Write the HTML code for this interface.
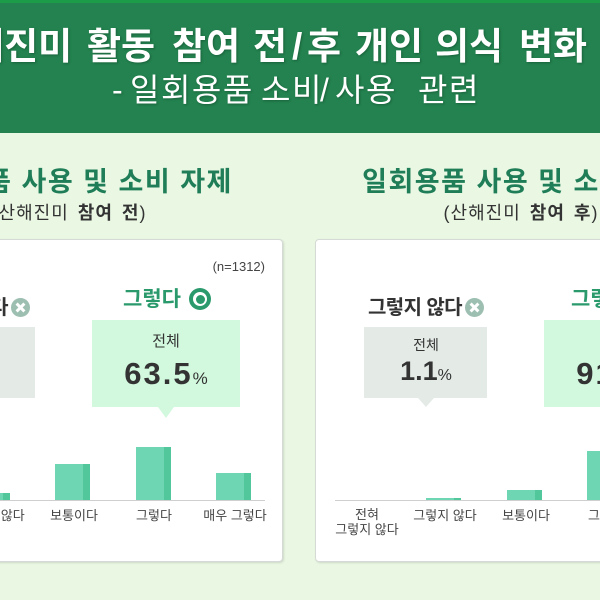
<!DOCTYPE html>
<html><head><meta charset="utf-8">
<style>
*{margin:0;padding:0;box-sizing:border-box}
html,body{width:600px;height:600px;overflow:hidden}
body{position:relative;background:#e9f7e3;font-family:"Liberation Sans","Noto Sans CJK KR",sans-serif;color:#333}
.hdr{position:absolute;left:0;top:0;width:600px;height:133px;background:#23824f}
.strip{position:absolute;left:0;top:0;width:600px;height:3px;background:#1c9b48}
.t1,.t2{position:absolute;color:#fff;white-space:nowrap;text-shadow:1px 1px 2px rgba(0,0,0,0.25)}
.t1{font-size:37px;font-weight:700;line-height:37px;top:28px}
.t2{font-size:32px;font-weight:400;line-height:32px;top:74px;letter-spacing:1.5px}
.h{position:absolute;width:500px;text-align:center;white-space:nowrap}
.h1{font-size:27px;font-weight:700;color:#1f7d57;line-height:27px;top:169px;letter-spacing:1.5px;word-spacing:0}
.h2{font-size:18px;color:#333;line-height:18px;top:204px;word-spacing:3px;letter-spacing:1px}
.card{position:absolute;top:239px;width:420px;height:323px;background:#fff;border:1px solid #d6dad6;border-radius:4px;box-shadow:1px 1px 2px rgba(0,0,0,0.12)}
.card div{position:absolute;white-space:nowrap}
.n{right:17px;top:20px;font-size:13px;line-height:13px;color:#444}
.gl{left:52px;top:58px;font-size:20px;font-weight:700;line-height:20px;letter-spacing:-0.6px;color:#333}
.gi{left:149px;top:58px;width:19px;height:19px;border-radius:50%;background:#9dbfb1}
.gi i,.gi b{position:absolute;left:4px;top:8px;width:11px;height:3px;background:#fff;transform:rotate(45deg)}
.gi b{transform:rotate(-45deg)}
.gb{left:48px;top:87px;width:123px;height:71px;background:#e4ebe7}
.gt{left:102px;top:158px;width:0;height:0;border-left:8px solid transparent;border-right:8px solid transparent;border-top:9px solid #e4ebe7}
.c{text-align:center;width:160px}
.gw{left:30px;top:98px;font-size:14px;line-height:14px}
.gv{left:30px;top:118px;font-size:27px;font-weight:700;line-height:27px}
.gv span,.vv span{font-size:16px;font-weight:400;letter-spacing:0}
.grl{top:49px;font-size:21px;font-weight:700;line-height:21px;color:#2a9a6d}
.gri{left:325px;top:48px;width:22px;height:22px;border-radius:50%;background:#2a9a6d}
.gri i{position:absolute;left:4px;top:4px;width:14px;height:14px;border-radius:50%;background:#fff}
.gri b{position:absolute;left:6.5px;top:6.5px;width:9px;height:9px;border-radius:50%;background:#2a9a6d}
.vb{left:228px;top:80px;width:148px;height:87px;background:#d2f8de}
.vt{left:294px;top:167px;width:0;height:0;border-left:8px solid transparent;border-right:8px solid transparent;border-top:11px solid #d2f8de}
.vw{left:222px;top:94px;font-size:15px;line-height:15px}
.vv{left:222px;top:118px;font-size:31px;font-weight:700;line-height:31px;letter-spacing:2px}
.vv span{font-size:17px}
.ax{left:19px;top:260px;width:382px;height:1px;background:#cfcfcf}
.bar{width:35px;background:#6fd6b4}
.bar i{position:absolute;right:0;top:0;bottom:0;width:7px;background:#52c79b}
.lb{width:100px;text-align:center;top:268px;font-size:13px;line-height:15px;color:#444}
</style></head><body>
<div class="hdr"></div>
<div class="strip"></div>
<span class="t1" style="left:-64px">산해진미</span>
<span class="t1" style="left:87px">활동</span>
<span class="t1" style="left:172px">참여</span>
<span class="t1" style="left:253px">전</span>
<span class="t1" style="left:292px">/</span>
<span class="t1" style="left:307px">후</span>
<span class="t1" style="left:355px">개인</span>
<span class="t1" style="left:435px">의식</span>
<span class="t1" style="left:519px">변화</span>
<span class="t2" style="left:112px">-</span>
<span class="t2" style="left:130px">일회용품</span>
<span class="t2" style="left:261px">소비</span>
<span class="t2" style="left:320px">/</span>
<span class="t2" style="left:335px">사용</span>
<span class="t2" style="left:418px">관련</span>

<div class="h h1" style="left:-180px">일회용품 사용 및 소비 자제</div>
<div class="h h2" style="left:-181px">(산해진미 <b>참여&nbsp;전</b>)</div>
<div class="h h1" style="left:275px">일회용품 사용 및 소비 자제</div>
<div class="h h2" style="left:271px">(산해진미 <b>참여&nbsp;후</b>)</div>

<div class="card" style="left:-137px">
  <div class="n">(n=1312)</div>
  <div class="gl" style="left:50px">그렇지 않다</div>
  <div class="gi" style="left:147px"><i></i><b></b></div>
  <div class="gb"></div><div class="gt"></div>
  <div class="c gw">전체</div>
  <div class="c gv">2.4<span>%</span></div>
  <div class="grl" style="left:259px">그렇다</div>
  <div class="gri"><i></i><b></b></div>
  <div class="vb"></div><div class="vt"></div>
  <div class="c vw">전체</div>
  <div class="c vv">63.5<span>%</span></div>
  <div class="ax"></div>
  <div class="bar" style="left:29.5px;top:258px;height:2px"><i></i></div>
  <div class="bar" style="left:110.5px;top:253px;height:7px"><i></i></div>
  <div class="bar" style="left:191px;top:224px;height:36px"><i></i></div>
  <div class="bar" style="left:271.5px;top:207px;height:53px"><i></i></div>
  <div class="bar" style="left:352px;top:233px;height:27px"><i></i></div>
  <div class="lb" style="left:-2px;top:267px">전혀<br>그렇지 않다</div>
  <div class="lb" style="left:79px">그렇지 않다</div>
  <div class="lb" style="left:160px">보통이다</div>
  <div class="lb" style="left:240px">그렇다</div>
  <div class="lb" style="left:321px">매우 그렇다</div>
</div>

<div class="card" style="left:315px">
  <div class="n">(n=1312)</div>
  <div class="gl">그렇지 않다</div>
  <div class="gi"><i></i><b></b></div>
  <div class="gb"></div><div class="gt"></div>
  <div class="c gw">전체</div>
  <div class="c gv">1.1<span>%</span></div>
  <div class="grl" style="left:255px">그렇다</div>
  <div class="gri"><i></i><b></b></div>
  <div class="vb"></div><div class="vt"></div>
  <div class="c vw">전체</div>
  <div class="c vv">91.9<span>%</span></div>
  <div class="ax"></div>
  <div class="bar" style="left:109.5px;top:258px;height:2px"><i></i></div>
  <div class="bar" style="left:190.5px;top:250px;height:10px"><i></i></div>
  <div class="bar" style="left:271px;top:211px;height:49px"><i></i></div>
  <div class="bar" style="left:352px;top:222px;height:38px"><i></i></div>
  <div class="lb" style="left:1px;top:267px">전혀<br>그렇지 않다</div>
  <div class="lb" style="left:79px">그렇지 않다</div>
  <div class="lb" style="left:160px">보통이다</div>
  <div class="lb" style="left:240px">그렇다</div>
  <div class="lb" style="left:321px">매우 그렇다</div>
</div>
</body></html>
